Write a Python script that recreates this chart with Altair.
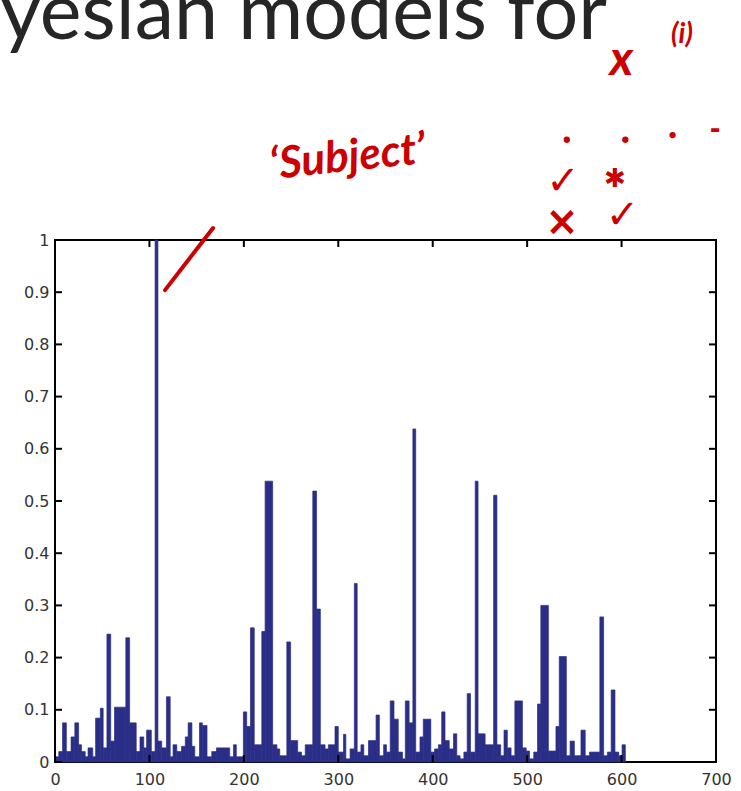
import altair as alt
import pandas as pd

# ---- bar data: word index segments (start of each run) and their value ----
seg_start = [0, 4, 8, 12, 17, 21, 25, 28, 32, 35, 40, 43, 48, 51, 55, 59, 63, 75, 79, 86,
             90, 94, 97, 102, 106, 109, 113, 118, 122, 125, 129, 134, 138, 141, 145, 148,
             153, 156, 161, 166, 171, 185, 189, 192, 199.5, 203, 207, 211, 219, 222.5,
             230.5, 235, 238, 245.5, 249.5, 257, 261, 265, 273, 277, 281, 286, 289.5,
             296.5, 300, 305.5, 308, 312.5, 317, 320, 324, 327, 332, 340, 343.5, 348, 351,
             355, 359, 363.5, 368, 371, 375, 379, 382, 386.5, 390, 398, 402, 406, 409.5,
             413, 417.5, 422, 425.5, 429, 433, 436.5, 440, 445, 448, 455.5, 464.5, 468,
             472, 475.5, 479, 483, 487, 495, 499, 502.5, 507, 511, 514.5, 522.5, 530.5,
             534, 541.5, 545.5, 550, 557, 561.5, 566, 577, 581, 585, 589, 593, 597, 600.5]
seg_value = [0.010, 0.020, 0.075, 0.020, 0.048, 0.075, 0.033, 0.020, 0.010, 0.027, 0.010,
             0.084, 0.103, 0.027, 0.245, 0.040, 0.105, 0.238, 0.075, 0.020, 0.048, 0.027,
             0.061, 0.020, 1.000, 0.040, 0.027, 0.125, 0.010, 0.033, 0.020, 0.030, 0.048,
             0.075, 0.030, 0.010, 0.075, 0.070, 0.010, 0.020, 0.027, 0.010, 0.033, 0.010,
             0.096, 0.068, 0.257, 0.033, 0.250, 0.538, 0.033, 0.025, 0.012, 0.230, 0.041,
             0.019, 0.012, 0.033, 0.519, 0.293, 0.033, 0.025, 0.033, 0.068, 0.019, 0.053,
             0.006, 0.025, 0.342, 0.019, 0.033, 0.012, 0.041, 0.090, 0.012, 0.033, 0.019,
             0.117, 0.082, 0.019, 0.006, 0.117, 0.075, 0.638, 0.019, 0.048, 0.082, 0.019,
             0.025, 0.033, 0.096, 0.041, 0.025, 0.054, 0.012, 0.006, 0.019, 0.131, 0.019,
             0.538, 0.054, 0.033, 0.511, 0.033, 0.012, 0.061, 0.027, 0.012, 0.117, 0.027,
             0.021, 0.006, 0.019, 0.111, 0.300, 0.021, 0.068, 0.202, 0.012, 0.040, 0.012,
             0.061, 0.012, 0.019, 0.278, 0.012, 0.019, 0.138, 0.019, 0.012, 0.033]
seg_last = 604

x_ticks = [0, 100, 200, 300, 400, 500, 600, 700]
y_ticks = [0, 0.1, 0.2, 0.3, 0.4, 0.5, 0.6, 0.7, 0.8, 0.9, 1]

title_text = ["yesian models for"]
title_x = [-58]
title_y = [1.385]

# handwritten red notes (placed in data coordinates)
note_text = ["\u2018Subject\u2019", "x", "(i)"]
note_x = [310, 600, 664]
note_y = [1.157, 1.342, 1.392]
note_size = [44, 48, 28]
note_angle = [354, 0, 0]

mark_text = ["\u2713", "\u2731", "\u00d7", "\u2713", "-"]
mark_x = [538, 593, 537, 601, 699]
mark_y = [1.112, 1.117, 1.032, 1.046, 1.211]
mark_size = [40, 26, 40, 40, 26]

dot_x = [542, 604, 654]
dot_y = [1.192, 1.192, 1.201]

slash_x, slash_y, slash_x2, slash_y2 = [116.5], [0.904], [167.4], [1.023]

# ---------------------------------------------------------------------------
W, H = 661, 522
NAVY = "#2a2e86"
RED = "#cc0000"
TICK = 7

bars_df = pd.DataFrame({"start": seg_start,
                        "end": seg_start[1:] + [seg_last],
                        "value": seg_value})

xs = alt.Scale(domain=[0, 700], nice=False, zero=False)
ys = alt.Scale(domain=[0, 1], nice=False, zero=False)
x_axis = alt.Axis(values=x_ticks, title=None, grid=False, ticks=False, domain=False,
                  labelFont="DejaVu Sans", labelFontSize=16, labelColor="#333333",
                  labelPadding=9, format="d", labelFlush=False)
y_axis = alt.Axis(values=y_ticks, title=None, grid=False, ticks=False, domain=False,
                  labelFont="DejaVu Sans", labelFontSize=16, labelColor="#333333",
                  labelPadding=6, labelExpr="format(datum.value, '~g')", labelFlush=False)

bars = alt.Chart(bars_df).mark_rect(color=NAVY, stroke=NAVY, strokeWidth=0.7).encode(
    x=alt.X("start:Q", scale=xs, axis=x_axis),
    x2="end:Q",
    y=alt.Y("value:Q", scale=ys, axis=y_axis),
    y2=alt.datum(0),
)

yt = pd.DataFrame({"v": y_ticks})
xt = pd.DataFrame({"v": x_ticks})
tick_style = dict(color="black", strokeWidth=2)
yl = alt.Chart(yt).mark_rule(**tick_style).encode(
    y=alt.Y("v:Q", scale=ys, axis=y_axis), x=alt.value(0), x2=alt.value(TICK))
yr = alt.Chart(yt).mark_rule(**tick_style).encode(
    y=alt.Y("v:Q", scale=ys, axis=y_axis), x=alt.value(W - TICK), x2=alt.value(W))
xb = alt.Chart(xt).mark_rule(**tick_style).encode(
    x=alt.X("v:Q", scale=xs, axis=x_axis), y=alt.value(H - TICK), y2=alt.value(H))
xtop = alt.Chart(xt).mark_rule(**tick_style).encode(
    x=alt.X("v:Q", scale=xs, axis=x_axis), y=alt.value(0), y2=alt.value(TICK))

title = alt.Chart(pd.DataFrame({"t": title_text, "x": title_x, "y": title_y})).mark_text(
    font="Lato", fontSize=79, color="#262626", align="left", baseline="alphabetic"
).encode(x=alt.X("x:Q", scale=xs, axis=x_axis), y=alt.Y("y:Q", scale=ys, axis=y_axis), text="t:N")

notes = alt.Chart(pd.DataFrame({"t": note_text, "x": note_x, "y": note_y,
                                "s": note_size, "a": note_angle})).mark_text(
    font="Lato", fontStyle="italic", fontWeight="bold", color=RED, align="center", baseline="middle"
).encode(x=alt.X("x:Q", scale=xs, axis=x_axis), y=alt.Y("y:Q", scale=ys, axis=y_axis),
         text="t:N", size=alt.Size("s:Q", scale=None, legend=None),
         angle=alt.Angle("a:Q", scale=None))

marks = alt.Chart(pd.DataFrame({"t": mark_text, "x": mark_x, "y": mark_y, "s": mark_size})).mark_text(
    font="DejaVu Sans", fontWeight="bold", color=RED, align="center", baseline="middle"
).encode(x=alt.X("x:Q", scale=xs, axis=x_axis), y=alt.Y("y:Q", scale=ys, axis=y_axis),
         text="t:N", size=alt.Size("s:Q", scale=None, legend=None))

dots = alt.Chart(pd.DataFrame({"x": dot_x, "y": dot_y})).mark_circle(
    color=RED, size=40, opacity=1
).encode(x=alt.X("x:Q", scale=xs, axis=x_axis), y=alt.Y("y:Q", scale=ys, axis=y_axis))

slash = alt.Chart(pd.DataFrame({"x": slash_x, "y": slash_y, "x2": slash_x2, "y2": slash_y2})).mark_rule(
    color=RED, strokeWidth=4, strokeCap="round"
).encode(x=alt.X("x:Q", scale=xs, axis=x_axis), y=alt.Y("y:Q", scale=ys, axis=y_axis),
         x2="x2:Q", y2="y2:Q")

chart = alt.layer(bars, yl, yr, xb, xtop, slash, title, notes, marks, dots).properties(
    width=W, height=H,
    autosize=alt.AutoSizeParams(type="none"),
    padding={"left": 55, "top": 240, "right": 25, "bottom": 29},
    background="white",
).configure_view(stroke="black", strokeWidth=2)

chart.save("out.html", embed_options={"renderer": "svg", "actions": False})
